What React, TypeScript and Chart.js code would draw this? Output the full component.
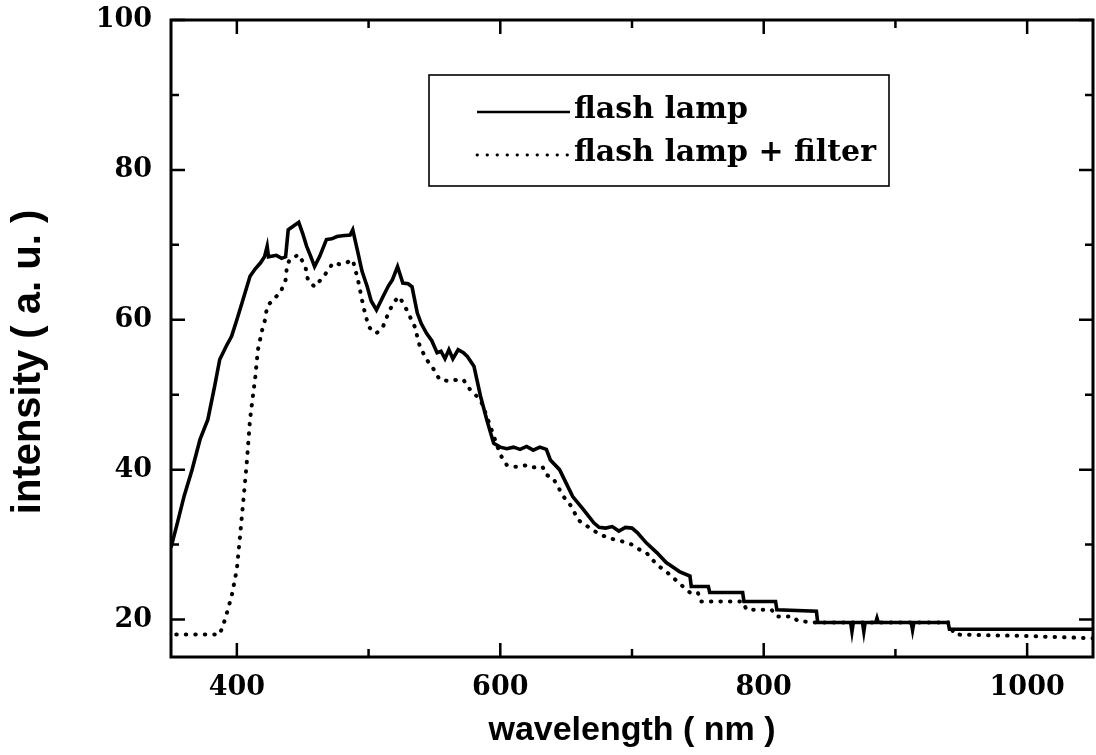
import { useEffect, useRef } from "react";
import { Chart, registerables } from "chart.js";

Chart.register(...registerables);

// ---- data ----
const lampWavelength = [
  350, 355, 360, 366, 372, 378, 383, 387, 392, 396, 400, 404, 410, 414, 418, 421, 423, 424, 430, 434,
  437, 439, 443, 447, 450, 453, 456, 459, 463, 468, 472, 476, 480, 486, 488, 492, 495, 499, 502, 506,
  511, 515, 518, 522, 526, 530, 533, 537, 540, 544, 548, 552, 555, 558, 561, 564, 568, 572, 575, 580,
  585, 590, 595, 600, 605, 610, 615, 620, 625, 630, 635, 638, 645, 650, 655, 663, 671, 675, 680, 685,
  690, 695, 700, 704, 711, 719, 726, 731, 736, 744, 745, 758, 759, 784, 785, 809, 810, 840, 841, 866,
  867, 868, 875, 876, 877, 885, 886, 887, 912, 913, 914, 940, 941, 1050,
];
const lampIntensity = [
  29.6, 33, 36.5, 40, 44, 46.7, 51, 54.7, 56.5, 57.8, 60, 62.3, 65.8, 66.8, 67.6, 68.4, 69.8, 68.4, 68.6, 68.2,
  68.4, 72, 72.5, 73, 71.5, 69.8, 68.5, 67.1, 68.5, 70.7, 70.8, 71.1, 71.2, 71.3, 72, 68.9, 66.5, 64.4, 62.5, 61.3,
  63.1, 64.5, 65.3, 67.1, 64.9, 64.8, 64.4, 60.9, 59.5, 58.2, 57.2, 55.6, 55.8, 54.8, 56, 54.8, 56, 55.6, 55.1, 53.8,
  49.8, 46.5, 43.5, 43, 42.8, 43, 42.7, 43.1, 42.6, 43, 42.7, 41.3, 40, 38.2, 36.4, 34.7, 32.9, 32.3, 32.2, 32.4,
  31.8, 32.3, 32.2, 31.6, 30.2, 28.9, 27.6, 27, 26.4, 25.8, 24.4, 24.4, 23.6, 23.6, 22.4, 22.4, 21.3, 21.1, 19.6, 19.6,
  18.4, 19.6, 19.6, 18.4, 19.6, 19.6, 20.2, 19.6, 19.6, 18.6, 19.6, 19.6, 18.7, 18.7,
];

const filterWavelength = [
  354, 387, 391, 396, 400, 402.4, 405, 407.5, 410, 414, 416, 419, 421.4, 423, 428, 433, 437, 438, 440, 447,
  452, 454, 459, 462, 466, 470, 473, 478, 483, 488, 492, 496, 500, 503, 506, 511, 516, 520, 523, 526,
  529, 535, 539, 544, 549, 554, 558, 562, 567, 572, 577, 585, 590, 595, 600, 605, 610, 615, 620, 625,
  632, 635, 640, 648, 654, 659, 668, 676, 686, 693, 700, 706, 711, 719, 726, 733, 740, 744, 750, 752,
  784, 787, 806, 810, 822, 826, 840, 940, 945, 1000, 1050,
];
const filterIntensity = [
  18, 18, 20, 23.1, 26.7, 31.1, 36, 40.9, 46.7, 52.4, 56, 58.5, 60, 61.8, 62.8, 63.6, 65.3, 67.1, 68, 68.7,
  67.1, 65.3, 64.4, 65, 65.8, 66.8, 67.6, 67.4, 67.6, 68, 65.3, 61.8, 59.1, 58.5, 58.2, 59.1, 61.3, 62.5, 63.1, 62.3,
  61.3, 59.1, 56.4, 54.7, 53.5, 52, 51.9, 51.8, 52, 52, 50.7, 49.3, 47, 44.5, 42, 40.6, 40.4, 40.4, 40.6, 40.3,
  40.4, 39.3, 38.9, 36.4, 35.1, 33.3, 32.2, 31.3, 30.7, 30.4, 30, 29.3, 28.9, 27.3, 26.4, 25.3, 24.2, 23.6, 23.6, 22.4,
  22.4, 21.3, 21.3, 20.4, 20.4, 19.8, 19.6, 19.6, 18, 17.8, 17.5,
];

const seriesLabels = ["flash lamp", "flash lamp + filter"];
const xTickValues = [400, 600, 800, 1000];
const xMinorTickValues = [500, 700, 900];
const yTickValues = [20, 40, 60, 80, 100];
const yMinorTickValues = [30, 50, 70, 90];
const xTitle = "wavelength ( nm )";
const yTitle = "intensity ( a. u. )";

const SERIF = "'DejaVu Serif', serif";
const SANS = "'Liberation Sans', Arial, sans-serif";

const framePlugin = {
  id: "frameTicks",
  afterDatasetsDraw(chart: any) {
    const { ctx, chartArea, scales } = chart;
    const { left, right, top, bottom } = chartArea;
    const x = scales.x;
    const y = scales.y;
    ctx.save();
    ctx.strokeStyle = "#000";
    ctx.lineWidth = 3;
    ctx.strokeRect(left, top, right - left, bottom - top);
    const major = 14;
    const minor = 8;
    ctx.lineWidth = 2.5;
    ctx.beginPath();
    const vx = (vals: number[], len: number) => {
      vals.forEach((v) => {
        const p = x.getPixelForValue(v);
        ctx.moveTo(p, bottom);
        ctx.lineTo(p, bottom - len);
        ctx.moveTo(p, top);
        ctx.lineTo(p, top + len);
      });
    };
    const vy = (vals: number[], len: number) => {
      vals.forEach((v) => {
        const p = y.getPixelForValue(v);
        ctx.moveTo(left, p);
        ctx.lineTo(left + len, p);
        ctx.moveTo(right, p);
        ctx.lineTo(right - len, p);
      });
    };
    vx(xTickValues, major);
    vx(xMinorTickValues, minor);
    vy(yTickValues, major);
    vy(yMinorTickValues, minor);
    ctx.stroke();
    ctx.restore();
  },
};

const yTitlePlugin = {
  id: "yTitle",
  afterDraw(chart: any) {
    const { ctx } = chart;
    ctx.save();
    ctx.translate(29, 362);
    ctx.rotate(-Math.PI / 2);
    ctx.fillStyle = "#000";
    ctx.font = `bold 40px ${SANS}`;
    ctx.textAlign = "center";
    ctx.textBaseline = "middle";
    ctx.fillText(yTitle, 0, 0);
    ctx.restore();
  },
};

const boxLegendPlugin = {
  id: "boxLegend",
  afterDraw(chart: any) {
    const { ctx } = chart;
    const boxL = 429, boxT = 75, boxR = 889, boxB = 186;
    ctx.save();
    ctx.fillStyle = "#fff";
    ctx.fillRect(boxL, boxT, boxR - boxL, boxB - boxT);
    ctx.strokeStyle = "#000";
    ctx.lineWidth = 1.6;
    ctx.strokeRect(boxL, boxT, boxR - boxL, boxB - boxT);
    const rows = [112, 155];
    chart.data.datasets.forEach((ds: any, i: number) => {
      const yy = rows[i];
      ctx.beginPath();
      ctx.strokeStyle = ds.borderColor;
      ctx.lineWidth = i === 0 ? 2.6 : 2.8;
      ctx.lineCap = ds.borderCapStyle || "butt";
      ctx.setLineDash(ds.borderDash && ds.borderDash.length ? [0.5, 9.5] : []);
      ctx.moveTo(477, yy);
      ctx.lineTo(570, yy);
      ctx.stroke();
      ctx.setLineDash([]);
      ctx.fillStyle = "#000";
      ctx.font = `bold 30px ${SERIF}`;
      ctx.textBaseline = "alphabetic";
      ctx.textAlign = "left";
      ctx.fillText(ds.label, 574, yy + 6);
    });
    ctx.restore();
  },
};

export default function App() {
  const ref = useRef<HTMLCanvasElement | null>(null);
  useEffect(() => {
    if (!ref.current) return;
    const chart = new Chart(ref.current, {
      type: "line",
      data: {
        datasets: [
          {
            label: seriesLabels[0],
            data: lampWavelength.map((w, i) => ({ x: w, y: lampIntensity[i] })),
            borderColor: "#000",
            borderWidth: 3.6,
            pointRadius: 0,
            fill: false,
            tension: 0,
            borderJoinStyle: "miter",
          },
          {
            label: seriesLabels[1],
            data: filterWavelength.map((w, i) => ({ x: w, y: filterIntensity[i] })),
            borderColor: "#000",
            borderWidth: 4,
            borderDash: [0.5, 9],
            borderCapStyle: "round",
            pointRadius: 0,
            fill: false,
            tension: 0,
          },
        ],
      },
      options: {
        animation: false,
        responsive: true,
        maintainAspectRatio: false,
        layout: { padding: { left: 0, right: 3, top: 20, bottom: 0 } },
        plugins: { legend: { display: false }, tooltip: { enabled: false } },
        scales: {
          x: {
            type: "linear",
            min: 350,
            max: 1050,
            afterBuildTicks: (axis: any) => {
              axis.ticks = xTickValues.map((v) => ({ value: v }));
            },
            afterFit: (scale: any) => {
              scale.height = 98;
              scale.paddingLeft = 0;
              scale.paddingRight = 0;
            },
            grid: { display: false, drawTicks: false },
            border: { display: false },
            ticks: {
              color: "#000",
              font: { family: SERIF, weight: "bold", size: 27 },
              padding: 15,
              maxRotation: 0,
              autoSkip: false,
              callback: (v: any) => String(v),
            },
            title: {
              display: true,
              text: xTitle,
              color: "#000",
              font: { family: SANS, weight: "bold", size: 34 },
              padding: { top: 4, bottom: 4 },
            },
          },
          y: {
            type: "linear",
            min: 15,
            max: 100,
            afterBuildTicks: (axis: any) => {
              axis.ticks = yTickValues.map((v) => ({ value: v }));
            },
            afterFit: (scale: any) => {
              scale.width = 171;
              scale.paddingTop = 0;
              scale.paddingBottom = 0;
            },
            grid: { display: false, drawTicks: false },
            border: { display: false },
            ticks: {
              color: "#000",
              font: { family: SERIF, weight: "bold", size: 27 },
              padding: 19,
              autoSkip: false,
              callback: (v: any) => String(v),
            },
          },
        },
      },
      plugins: [framePlugin, yTitlePlugin, boxLegendPlugin],
    } as any);
    return () => chart.destroy();
  }, []);
  return (
    <div style={{ position: "absolute", left: 0, top: 0, width: 1096, height: 755, background: "#fff" }}>
      <canvas ref={ref} />
    </div>
  );
}
